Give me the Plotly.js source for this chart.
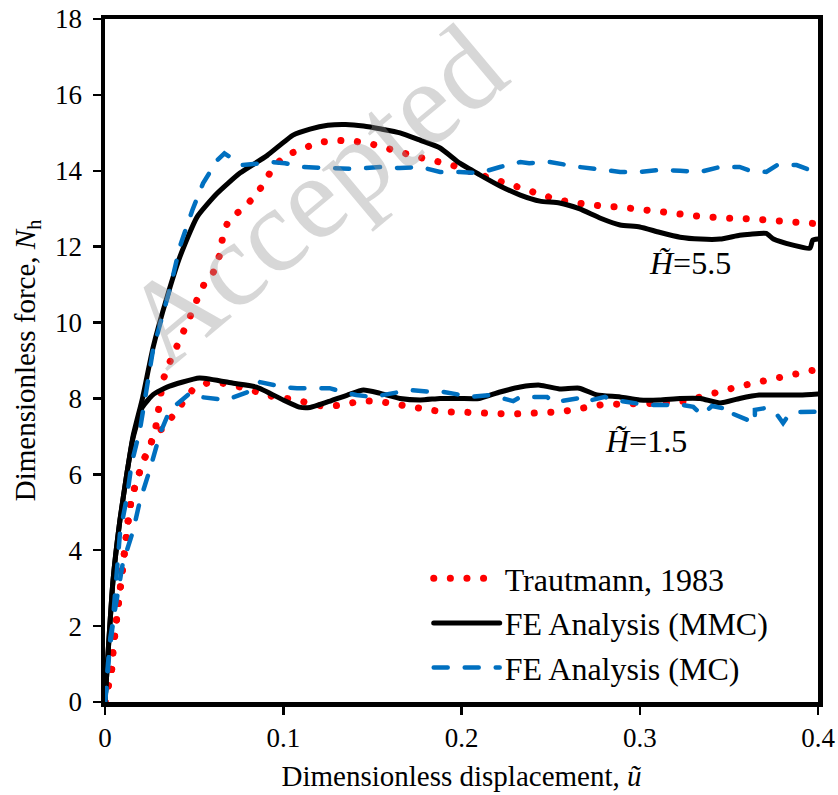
<!DOCTYPE html>
<html>
<head>
<meta charset="utf-8">
<script src="https://cdn.plot.ly/plotly-3.0.1.min.js"></script>
<style>
html,body{margin:0;padding:0;background:#fff;}
.js-line{stroke-linecap:round !important;}
</style>
</head>
<body>
<div id="chart" style="width:838px;height:795px;"></div>
<script>
// ---- Data ----
// H = 5.5
const trautmann55_x = [0,0.0017,0.0039,0.0045,0.0056,0.006,0.0084,0.0095,0.011,0.0123,0.0135,0.015,0.018,0.021,0.025,0.028,0.0297,0.031,0.0325,0.036,0.040,0.0438,0.0477,0.0516,0.0555,0.0606,0.0645,0.066,0.069,0.077,0.0836,0.0892,0.094,0.101,0.109,0.12,0.13,0.14,0.15,0.1655,0.1756,0.185,0.1947,0.2036,0.213,0.2227,0.2317,0.241,0.2508,0.26,0.269,0.279,0.289,0.2985,0.3086,0.318,0.327,0.337,0.347,0.356,0.366,0.376,0.386,0.3955,0.4];
const trautmann55_y = [0,0.45,0.9,1.37,1.8,2.27,3.16,3.63,4.1,4.53,4.98,5.4,5.85,6.3,6.72,7.1,7.6,8.0,8.48,8.92,9.32,9.75,10.15,10.6,11.0,11.3,11.8,12.25,12.67,13.0,13.3,13.67,14.07,14.4,14.55,14.75,14.8,14.78,14.7,14.47,14.36,14.26,14.15,14.0,13.86,13.7,13.57,13.4,13.28,13.18,13.12,13.07,13.04,13.0,12.94,12.89,12.83,12.78,12.75,12.75,12.73,12.67,12.65,12.62,12.6];

const mmc55_x = [0,0.0045,0.0084,0.0123,0.0157,0.021,0.027,0.0348,0.042,0.0516,0.0628,0.0757,0.0909,0.1055,0.115,0.125,0.135,0.145,0.155,0.1655,0.177,0.188,0.199,0.21,0.2216,0.233,0.244,0.255,0.266,0.278,0.289,0.3,0.311,0.3226,0.334,0.345,0.356,0.362,0.371,0.375,0.386,0.3955,0.397,0.4];
const mmc55_y = [0,3.2,4.8,6.03,7.0,8.0,9.35,10.67,11.73,12.78,13.4,13.94,14.4,14.94,15.1,15.2,15.22,15.18,15.1,15.0,14.8,14.6,14.2,13.9,13.6,13.36,13.2,13.15,13.0,12.75,12.57,12.52,12.38,12.25,12.2,12.2,12.3,12.33,12.35,12.2,12.04,11.96,12.17,12.2];

const mc55_x = [0,0.0017,0.004,0.0056,0.0084,0.0123,0.015,0.0196,0.027,0.0365,0.042,0.049,0.055,0.063,0.067,0.077,0.085,0.094,0.101,0.11,0.126,0.14,0.155,0.1655,0.177,0.188,0.199,0.21,0.2216,0.233,0.238,0.2496,0.266,0.278,0.289,0.3,0.311,0.3226,0.334,0.345,0.356,0.362,0.371,0.377,0.388,0.3955,0.4];
const mc55_y = [0,1.03,1.9,2.77,4.45,5.4,6.3,7.17,9.3,10.9,12.0,12.96,13.67,14.28,14.46,14.15,14.2,14.23,14.2,14.1,14.07,14.05,14.1,14.07,14.1,13.97,13.97,13.94,14.1,14.23,14.2,14.23,14.1,14.02,13.97,13.97,14.02,14.0,13.97,14.1,14.1,14.0,13.97,14.15,14.15,14.02,13.95];

// H = 1.5
const trautmann15_x = [0,0.0017,0.0039,0.0045,0.0056,0.006,0.0084,0.0095,0.011,0.0123,0.0135,0.015,0.018,0.021,0.025,0.028,0.0325,0.0365,0.043,0.049,0.057,0.066,0.076,0.086,0.095,0.105,0.114,0.1234,0.1335,0.143,0.1526,0.162,0.171,0.18,0.19,0.2,0.21,0.22,0.229,0.239,0.2485,0.2586,0.268,0.278,0.287,0.297,0.307,0.316,0.3265,0.3355,0.345,0.3546,0.3635,0.373,0.3826,0.392,0.4];
const trautmann15_y = [0,0.45,0.9,1.37,1.8,2.27,3.16,3.63,4.1,4.53,4.98,5.4,5.85,6.3,6.72,7.1,7.2,7.43,7.83,8.22,8.4,8.4,8.3,8.17,8.04,7.98,7.9,7.78,7.83,7.93,7.93,7.85,7.78,7.7,7.64,7.64,7.64,7.6,7.59,7.6,7.63,7.67,7.75,7.83,7.85,7.85,7.87,7.9,7.93,8.06,8.2,8.3,8.4,8.5,8.6,8.67,8.77];

const mmc15_x = [0,0.0045,0.0084,0.0123,0.0157,0.021,0.027,0.0348,0.053,0.072,0.085,0.1,0.109,0.115,0.1245,0.136,0.145,0.154,0.1655,0.177,0.188,0.199,0.21,0.2216,0.233,0.244,0.255,0.266,0.276,0.289,0.3,0.311,0.3226,0.334,0.345,0.356,0.367,0.3787,0.39,0.4];
const mmc15_y = [0,3.2,4.8,6.03,6.95,7.77,8.1,8.3,8.54,8.4,8.3,7.96,7.77,7.76,7.9,8.09,8.22,8.14,8.0,7.96,8.0,8.0,8.0,8.17,8.3,8.35,8.25,8.27,8.09,8.04,7.96,7.96,8.0,8.0,7.88,8.0,8.09,8.09,8.09,8.12];

const mc15_x = [0,0.001,0.003,0.0067,0.01,0.0157,0.0196,0.025,0.031,0.0365,0.0477,0.053,0.068,0.083,0.087,0.1,0.1077,0.1167,0.126,0.1335,0.141,0.15,0.1655,0.171,0.184,0.19,0.2,0.205,0.216,0.22,0.229,0.233,0.2385,0.248,0.2513,0.265,0.268,0.2805,0.285,0.2985,0.304,0.3153,0.321,0.33,0.335,0.3405,0.346,0.3506,0.352,0.3646,0.3646,0.371,0.376,0.3804,0.3826,0.387,0.397,0.4];
const mc15_y = [0,0.4,1.7,2.77,3.66,4.5,5.3,6.1,7.09,7.7,8.14,8.04,7.96,8.22,8.43,8.3,8.27,8.27,8.27,8.17,8.09,8.04,8.17,8.22,8.17,8.17,8.09,8.04,8.09,8.04,7.93,8.04,8.04,8.04,7.9,8.0,7.9,8.04,7.96,7.85,7.83,7.83,7.85,7.78,7.56,7.8,7.75,7.78,7.6,7.35,7.7,7.75,7.64,7.35,7.5,7.64,7.64,7.65];

const seriesNames = ["Trautmann, 1983", "FE Analysis (MMC)", "FE Analysis (MC)"];
const curveLabels = ["<i>H̃</i>=5.5", "<i>H̃</i>=1.5"];
const watermark = "Accepted";
const xTicks = [0, 0.1, 0.2, 0.3, 0.4];
const yTicks = [0, 2, 4, 6, 8, 10, 12, 14, 16, 18];

const RED = '#ff0000', BLACK = '#000000', BLUE = '#0070c0';
const redLine = {color: RED, width: 7, dash: '0.1px,16.5px'};
const blackLine = {color: BLACK, width: 5, shape: 'spline', smoothing: 0.5};
const blueLine = {color: BLUE, width: 4.5, dash: '14px,17px'};

const traces = [
  {x: trautmann55_x, y: trautmann55_y, mode: 'lines', line: redLine, name: seriesNames[0], legendgroup: 'a'},
  {x: trautmann15_x, y: trautmann15_y, mode: 'lines', line: redLine, name: seriesNames[0], legendgroup: 'a', showlegend: false},
  {x: mmc55_x, y: mmc55_y, mode: 'lines', line: blackLine, name: seriesNames[1], legendgroup: 'b'},
  {x: mmc15_x, y: mmc15_y, mode: 'lines', line: blackLine, name: seriesNames[1], legendgroup: 'b', showlegend: false},
  {x: mc55_x, y: mc55_y, mode: 'lines', line: blueLine, name: seriesNames[2], legendgroup: 'c'},
  {x: mc15_x, y: mc15_y, mode: 'lines', line: blueLine, name: seriesNames[2], legendgroup: 'c', showlegend: false}
];

const FONT = 'Liberation Serif, Times New Roman, serif';

const layout = {
  width: 838, height: 795,
  margin: {l: 105, r: 20, t: 19, b: 93},
  paper_bgcolor: '#fff', plot_bgcolor: '#fff',
  font: {family: FONT, size: 27, color: '#000'},
  showlegend: true,
  legend: {
    x: 0.454, y: 0.221, xanchor: 'left', yanchor: 'top',
    bgcolor: 'rgba(0,0,0,0)', borderwidth: 0,
    font: {family: FONT, size: 32, color: '#000'},
    traceorder: 'grouped', tracegroupgap: 0, itemwidth: 66
  },
  xaxis: {
    range: [0, 0.4], tickvals: xTicks, ticktext: xTicks.map(String),
    ticks: 'outside', ticklen: 8, tickwidth: 2.5, tickcolor: '#000',
    showline: true, linewidth: 4.5, linecolor: '#000', mirror: true,
    showgrid: false, zeroline: false,
    tickfont: {family: FONT, size: 27},
    title: {text: 'Dimensionless displacement, <i>ũ</i>', font: {family: FONT, size: 29}, standoff: 15}
  },
  yaxis: {
    range: [0, 18], tickvals: yTicks, ticktext: yTicks.map(String),
    ticks: 'outside', ticklen: 8, tickwidth: 2.5, tickcolor: '#000',
    showline: true, linewidth: 4.5, linecolor: '#000', mirror: true,
    showgrid: false, zeroline: false, ticklabelstandoff: 5,
    tickfont: {family: FONT, size: 27},
    title: {text: 'Dimensionless force, <i>N</i><sub>h</sub>', font: {family: FONT, size: 29}, standoff: 12}
  },
  annotations: [
    {x: 0.328, y: 11.57, xref: 'x', yref: 'y', text: curveLabels[0], showarrow: false, xanchor: 'center', yanchor: 'middle', font: {family: FONT, size: 32}},
    {x: 0.3035, y: 6.88, xref: 'x', yref: 'y', text: curveLabels[1], showarrow: false, xanchor: 'center', yanchor: 'middle', font: {family: FONT, size: 32}},
    {x: 0.292, y: 0.742, xref: 'paper', yref: 'paper', text: watermark, showarrow: false, textangle: -40,
     xanchor: 'center', yanchor: 'middle',
     font: {family: FONT, size: 120, color: 'rgba(150,150,150,0.38)'}}
  ]
};

Plotly.newPlot('chart', traces, layout, {staticPlot: true, displayModeBar: false});
</script>
</body>
</html>
